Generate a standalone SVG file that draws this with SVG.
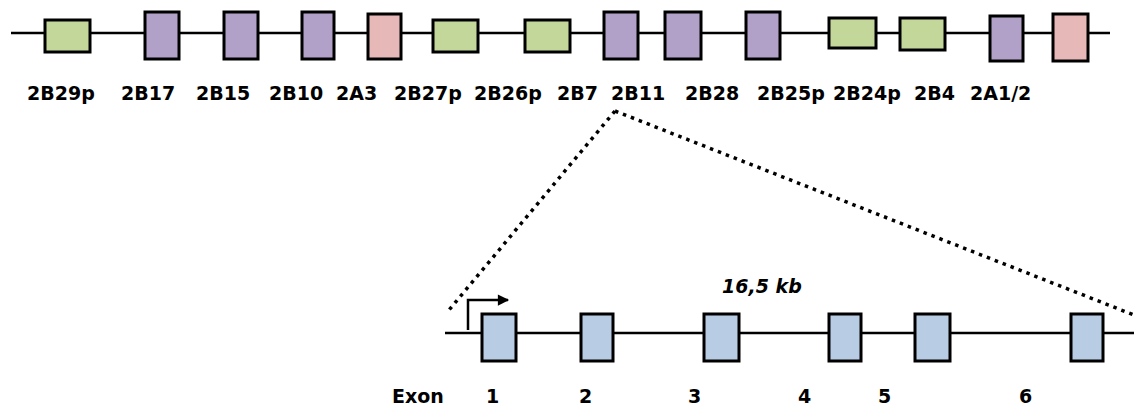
<svg xmlns="http://www.w3.org/2000/svg" width="1134" height="408" viewBox="0 0 1134 408">
<style>
.box{stroke:#000;stroke-width:3}
.g{fill:#C4D79B}.p{fill:#B1A0C7}.r{fill:#E6B8B7}.b{fill:#B8CCE4}
.ln{stroke:#000;stroke-width:2.5;fill:none}
.dot{stroke:#000;stroke-width:3.5;fill:none;stroke-dasharray:3.5 5}
text{font-family:"DejaVu Sans","Verdana",sans-serif;font-weight:bold;font-size:19px;fill:#000}
</style>
<defs>
<marker id="ah" viewBox="0 0 10 10" refX="9" refY="5" markerWidth="5.5" markerHeight="4.5" orient="auto" markerUnits="strokeWidth">
<path d="M0,0 L10,5 L0,10 Z" fill="#000"/>
</marker>
</defs>
<g id="connectors">
<line class="ln" x1="11" y1="33" x2="1110" y2="33"/>
<line class="ln" x1="445" y1="333" x2="1134" y2="333"/>
<polyline class="ln" points="468,330 468,300 508,300" marker-end="url(#ah)"/>
<line class="dot" x1="615" y1="111" x2="449" y2="310"/>
<line class="dot" x1="615" y1="111" x2="1134" y2="315"/>
</g>
<g id="n2B29p"><rect class="box g" x="45" y="20" width="45" height="32"/><text x="27" y="100">2B29p</text></g>
<g id="n2B17"><rect class="box p" x="145" y="12" width="34" height="47"/><text x="121" y="100">2B17</text></g>
<g id="n2B15"><rect class="box p" x="224" y="12" width="34" height="47"/><text x="196" y="100">2B15</text></g>
<g id="n2B10"><rect class="box p" x="302" y="12" width="32" height="47"/><text x="269" y="100">2B10</text></g>
<g id="n2A3"><rect class="box r" x="368" y="14" width="33" height="45"/><text x="336" y="100">2A3</text></g>
<g id="n2B27p"><rect class="box g" x="433" y="20" width="45" height="32"/><text x="394" y="100">2B27p</text></g>
<g id="n2B26p"><rect class="box g" x="525" y="20" width="45" height="32"/><text x="474" y="100">2B26p</text></g>
<g id="n2B7"><rect class="box p" x="604" y="12" width="34" height="47"/><text x="557" y="100">2B7</text></g>
<g id="n2B11"><rect class="box p" x="665" y="12" width="36" height="47"/><text x="611" y="100">2B11</text></g>
<g id="n2B28"><rect class="box p" x="746" y="12" width="34" height="47"/><text x="685" y="100">2B28</text></g>
<g id="n2B25p"><rect class="box g" x="829" y="18" width="47" height="30"/><text x="757" y="100">2B25p</text></g>
<g id="n2B24p"><rect class="box g" x="900" y="18" width="45" height="32"/><text x="833" y="100">2B24p</text></g>
<g id="n2B4"><rect class="box p" x="990" y="16" width="33" height="45"/><text x="914" y="100">2B4</text></g>
<g id="n2A12"><rect class="box r" x="1053" y="14" width="35" height="47"/><text x="970" y="100">2A1/2</text></g>
<g id="kb"><text x="722" y="293" font-style="italic">16,5 kb</text></g>
<g id="exonlabel"><text x="392" y="403">Exon</text></g>
<g id="exon1"><rect class="box b" x="482" y="314" width="34" height="47"/><text x="486" y="403">1</text></g>
<g id="exon2"><rect class="box b" x="581" y="314" width="32" height="47"/><text x="579" y="403">2</text></g>
<g id="exon3"><rect class="box b" x="704" y="314" width="35" height="47"/><text x="688" y="403">3</text></g>
<g id="exon4"><rect class="box b" x="829" y="314" width="32" height="47"/><text x="798" y="403">4</text></g>
<g id="exon5"><rect class="box b" x="915" y="314" width="35" height="47"/><text x="878" y="403">5</text></g>
<g id="exon6"><rect class="box b" x="1071" y="314" width="32" height="47"/><text x="1019" y="403">6</text></g>
</svg>
